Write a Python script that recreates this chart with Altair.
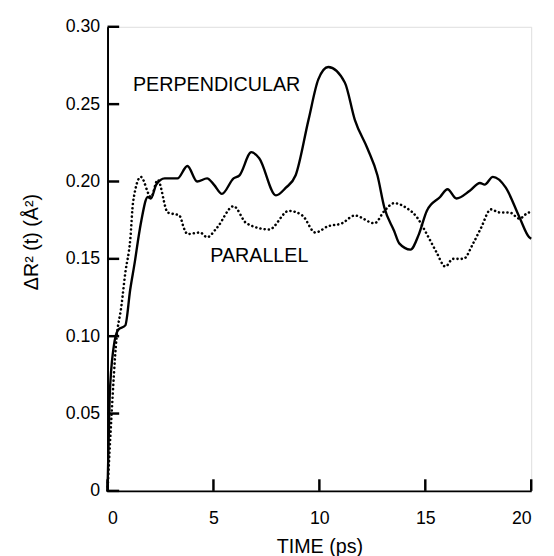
import altair as alt
import pandas as pd

# Perpendicular (solid) curve
perp_t = [0, 0.1, 0.28, 0.5, 0.84, 1.07, 1.3, 1.44, 1.6, 1.9, 2.05, 2.3, 2.7, 3.3, 3.77,
          4.23, 4.7, 5.02, 5.4, 5.95, 6.23, 6.79, 7.16, 7.95, 8.42, 8.88, 9.49, 9.95,
          10.42, 11.2, 11.67, 12.28, 12.74, 13.07, 13.53, 13.77, 14.3, 14.7, 15.07,
          15.7, 16.05, 16.47, 17.1, 17.58, 17.8, 18.19, 18.8, 19.44, 19.9, 20.0]
perp_v = [0, 0.06, 0.092, 0.104, 0.107, 0.13, 0.149, 0.162, 0.175, 0.19, 0.189, 0.198,
          0.202, 0.202, 0.21, 0.2, 0.202, 0.198, 0.192, 0.202, 0.204, 0.219, 0.215,
          0.191, 0.196, 0.204, 0.24, 0.266, 0.274, 0.264, 0.24, 0.221, 0.204, 0.183,
          0.168, 0.16, 0.156, 0.166, 0.181, 0.19, 0.195, 0.189, 0.194, 0.199, 0.198,
          0.203, 0.196, 0.177, 0.164, 0.163]

# Parallel (dotted) curve
par_t = [0, 0.19, 0.42, 0.65, 0.84, 1.07, 1.21, 1.57, 2.05, 2.37, 2.84, 3.39, 3.63, 3.77,
         4.37, 4.7, 5.16, 5.95, 6.56, 7.63, 8.56, 9.2, 9.81, 10.4, 11.07, 11.67, 12.6,
         13.07, 13.53, 14.1, 14.6, 15.07, 15.5, 15.95, 16.3, 16.8, 17.26, 17.63, 18.1,
         18.5, 18.98, 19.44, 19.9, 20.0]
par_v = [0, 0.049, 0.098, 0.119, 0.141, 0.162, 0.187, 0.203, 0.19, 0.201, 0.18, 0.178,
         0.169, 0.166, 0.167, 0.164, 0.17, 0.184, 0.173, 0.169, 0.181, 0.178, 0.167,
         0.171, 0.173, 0.178, 0.173, 0.181, 0.186, 0.183, 0.177, 0.166, 0.155, 0.145,
         0.150, 0.150, 0.160, 0.170, 0.182, 0.180, 0.180, 0.176, 0.180, 0.180]

x_ticks = [0, 5, 10, 15, 20]
y_ticks = [0, 0.05, 0.10, 0.15, 0.20, 0.25, 0.30]

W, H = 430, 471
FONT = "Liberation Sans"
X_TICK_LEN = 0.0075  # inward tick length on the x axis, in y units (~12 px)
Y_TICK_LEN = 0.55    # inward tick length on the y axis, in x units (~12 px)

perp = pd.DataFrame({"t": perp_t, "v": perp_v})
par = pd.DataFrame({"t": par_t, "v": par_v})

xs = alt.Scale(domain=[0, 20], nice=False)
ys = alt.Scale(domain=[0, 0.30], nice=False)

x_axis = alt.Axis(values=x_ticks, title="TIME (ps)", tickSize=0, labelPadding=19,
                  titlePadding=10, domainWidth=2, domainColor="black", grid=False,
                  labelFont=FONT, titleFont=FONT, labelFontSize=18, titleFontSize=20,
                  titleFontWeight="normal", labelColor="black", titleColor="black")
y_axis = alt.Axis(values=y_ticks, title="ΔR² (t) (Å²)", tickSize=0, labelPadding=8,
                  titlePadding=24, titleY=218, domainWidth=2, domainColor="black", grid=False,
                  labelExpr="datum.value == 0 ? '0' : format(datum.value, '.2f')",
                  labelFont=FONT, titleFont=FONT, labelFontSize=18, titleFontSize=20,
                  titleFontWeight="normal", labelColor="black", titleColor="black")

solid = alt.Chart(perp).mark_line(color="black", strokeWidth=2.4, interpolate="monotone").encode(
    x=alt.X("t:Q", scale=xs, axis=x_axis),
    y=alt.Y("v:Q", scale=ys, axis=y_axis),
)
dotted = alt.Chart(par).mark_line(color="black", strokeWidth=2.6, strokeDash=[0.1, 4.2],
                                  strokeCap="round", interpolate="monotone").encode(
    x=alt.X("t:Q", scale=xs),
    y=alt.Y("v:Q", scale=ys),
)

ytick_marks = alt.Chart(pd.DataFrame({"yt": y_ticks})).mark_rule(
    color="#000000", strokeWidth=2.5, opacity=1).encode(
    y=alt.Y("yt:Q", scale=ys), x=alt.datum(0), x2=alt.datum(Y_TICK_LEN))
xtick_marks = alt.Chart(pd.DataFrame({"xt": x_ticks})).mark_rule(
    color="#000000", strokeWidth=2.5, opacity=1).encode(
    x=alt.X("xt:Q", scale=xs), y=alt.datum(0), y2=alt.datum(X_TICK_LEN))

lab1 = alt.Chart().mark_text(text="PERPENDICULAR", align="left", baseline="middle",
                             font=FONT, fontSize=20, color="black").encode(
    x=alt.datum(1.2), y=alt.datum(0.262))
lab2 = alt.Chart().mark_text(text="PARALLEL", align="left", baseline="middle",
                             font=FONT, fontSize=20, color="black").encode(
    x=alt.datum(4.85), y=alt.datum(0.152))

chart = alt.layer(solid, dotted, ytick_marks, xtick_marks, lab1, lab2).properties(
    width=W, height=H,
    autosize=alt.AutoSizeParams(type="none"),
    padding={"left": 101, "top": 15, "right": 15, "bottom": 62},
).configure_view(stroke=None).configure(background="white")

chart.save("out.html", embed_options={"renderer": "svg", "actions": False})
